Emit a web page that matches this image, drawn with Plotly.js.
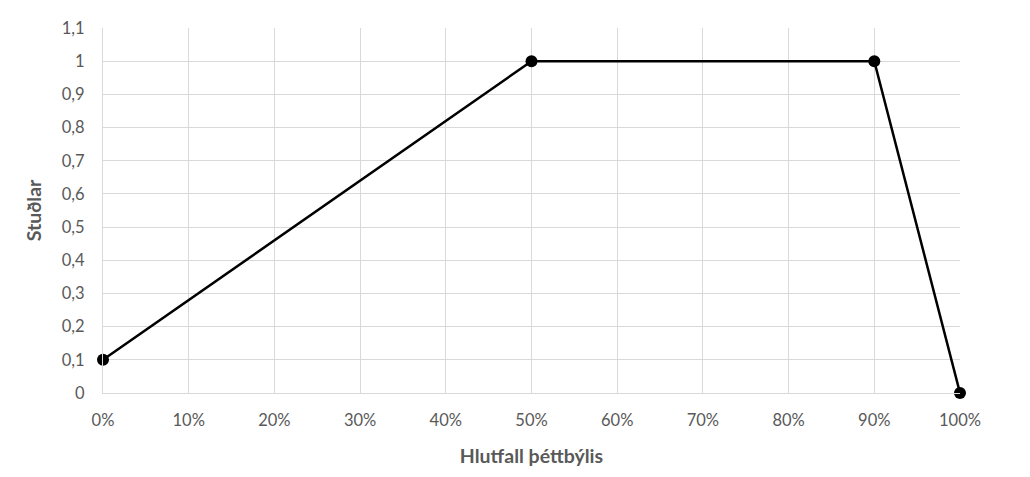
<!DOCTYPE html>
<html>
<head>
<meta charset="utf-8">
<script src="https://cdn.plot.ly/plotly-3.0.1.min.js"></script>
<style>html,body{margin:0;padding:0;background:#fff;}#chart{width:1030px;height:477px;}</style>
</head>
<body>
<div id="chart"></div>
<script>
const hlutfall = [0, 0.5, 0.9, 1.0];
const studlar = [0.1, 1, 1, 0];
const yTicks = [0, 0.1, 0.2, 0.3, 0.4, 0.5, 0.6, 0.7, 0.8, 0.9, 1, 1.1];
const xTicks = [0, 0.1, 0.2, 0.3, 0.4, 0.5, 0.6, 0.7, 0.8, 0.9, 1.0];
const xTitle = 'Hlutfall þéttbýlis';
const yTitle = 'Stuðlar';

const trace = {
  x: hlutfall, y: studlar, type: 'scatter', mode: 'lines+markers',
  line: {color: '#000000', width: 2.5},
  marker: {color: '#000000', size: 12},
  cliponaxis: false,
  hoverinfo: 'none'
};
const gridCol = '#d9d9d9';
const fam = 'Lato, Calibri, sans-serif';
const tickFont = {family: fam, size: 16.5, color: '#595959'};
const titleFont = {family: fam, size: 19.5, color: '#595959'};
const layout = {
  width: 1030, height: 477,
  margin: {l: 103, r: 70, t: 28, b: 84},
  paper_bgcolor: '#ffffff', plot_bgcolor: '#ffffff',
  separators: ', ',
  showlegend: false,
  xaxis: {
    range: [0, 1], tickvals: xTicks, tickformat: '.0%',
    showgrid: true, gridcolor: gridCol, gridwidth: 1,
    showline: true, linecolor: gridCol, linewidth: 1,
    zeroline: false, ticks: '', tickfont: tickFont,
    ticklabelstandoff: 12,
    title: {text: '<b>' + xTitle + '</b>', font: titleFont, standoff: 20}
  },
  yaxis: {
    range: [0, 1.1], tickvals: yTicks,
    showgrid: true, gridcolor: gridCol, gridwidth: 1,
    showline: true, linecolor: gridCol, linewidth: 1,
    zeroline: false, ticks: '', tickfont: tickFont,
    ticklabelstandoff: 14,
    title: {text: '<b>' + yTitle + '</b>', font: titleFont, standoff: 14}
  }
};
Plotly.newPlot('chart', [trace], layout, {staticPlot: true, displayModeBar: false});
</script>
</body>
</html>
